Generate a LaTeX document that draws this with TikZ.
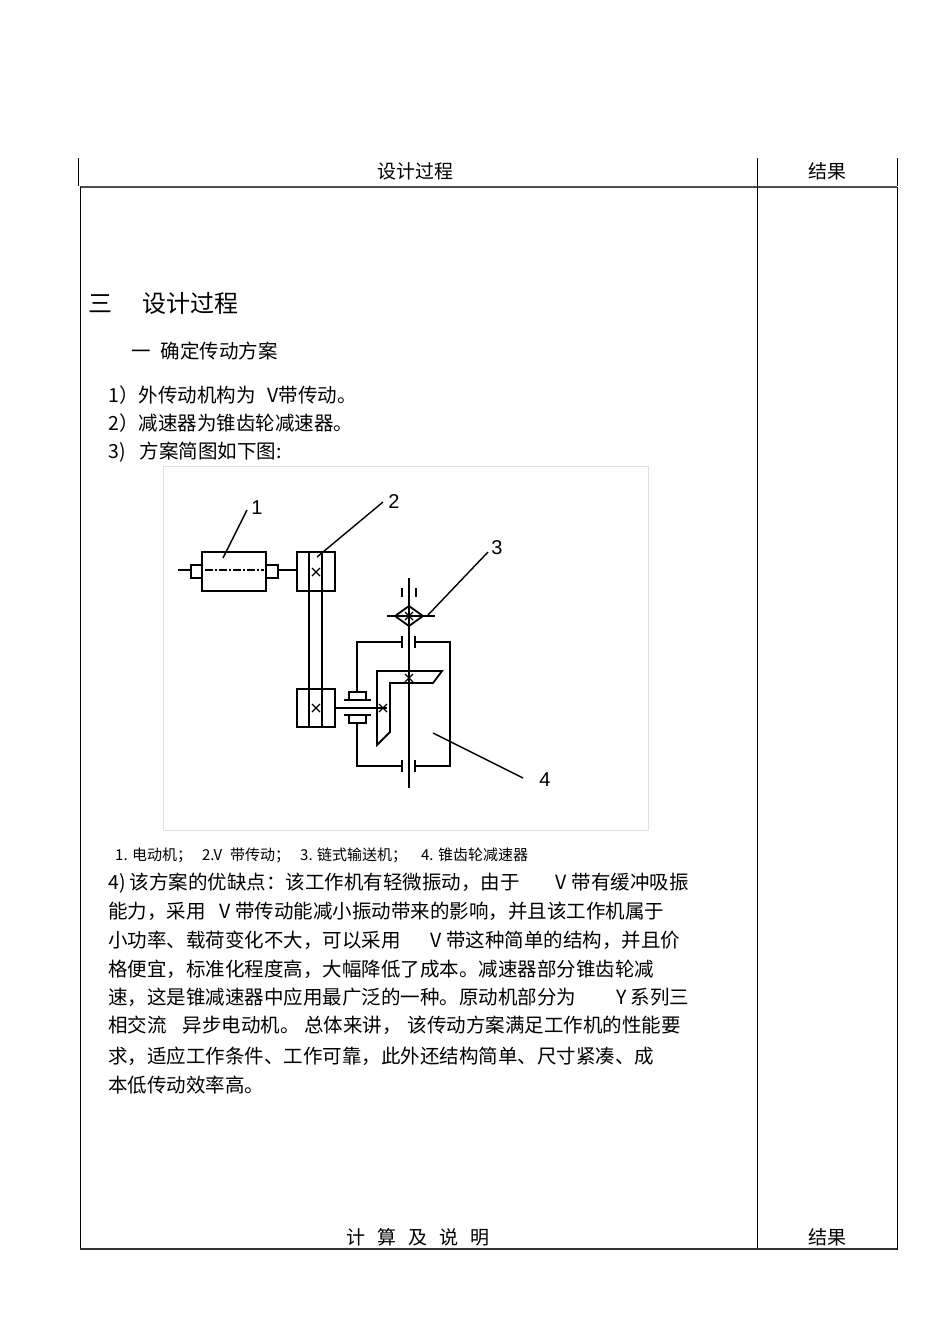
\documentclass[tikz,border=0pt]{standalone}
\usepackage{fontspec}
\setmainfont{Noto Sans CJK SC}
\newfontfamily\lsans{Liberation Sans}
\begin{document}
\begin{tikzpicture}[x=1pt,y=-1pt,
  txt/.style={anchor=west,inner sep=0pt,font=\fontsize{19.5}{19.5}\selectfont},
  hd/.style={inner sep=0pt,font=\fontsize{19}{19}\selectfont},
  num/.style={inner sep=0pt,font=\lsans\fontsize{20}{20}\selectfont},
  mech/.style={line width=1.8pt},
  lead/.style={line width=1.4pt}]
\useasboundingbox (0,0) rectangle (950,1344);
\fill[white] (0,0) rectangle (950,1344);
% table
\draw[line width=1pt] (78,158)--(78,186) (757,158)--(757,186) (897,158)--(897,186);
\draw[line width=1.8pt,black!70] (80,187)--(897,187);
\draw[line width=1pt] (80,187)--(80,1250) (757,187)--(757,1250) (897,187)--(897,1250);
\draw[line width=1.8pt,black!80] (80,1249)--(897,1249);
\node[hd] (h1) at (415,171) {设计过程};
\node[hd] (h2) at (827,171) {结果};
\node[hd] (f1) at (418,1237) {计\hspace{12pt}算\hspace{12pt}及\hspace{12pt}说\hspace{12pt}明};
\node[hd] (f2) at (827,1237) {结果};
% headings
\node[txt,font=\fontsize{24}{24}\selectfont] (t0) at (88,303) {三\hspace{30pt}设计过程};
\node[txt] (t1) at (131,351) {一\hspace{10pt}确定传动方案};
\node[txt] (t2) at (108,395) {1）外传动机构为\hspace{12pt}V带传动。};
\node[txt] (t3) at (108,423) {2）减速器为锥齿轮减速器。};
\node[txt] (t4) at (108,452) {3)\hspace{14pt}方案简图如下图:};
% figure frame
\draw[black!12,line width=0.8pt] (163,466) rectangle (648,830);
% motor
\draw[mech] (202,552) rectangle (266,591);
\draw[mech] (191,565) rectangle (202,578);
\draw[mech] (266,565) rectangle (278,578);
\draw[mech] (178,570)--(191,570) (278,570)--(297,570);
\draw[line width=1.1pt,dash pattern=on 8pt off 2pt on 2pt off 2pt] (205,570)--(264,570);
% pulleys and belt
\draw[mech] (297,552) rectangle (335,591);
\draw[mech] (297,689) rectangle (335,727);
\draw[mech] (309,552)--(309,727) (322,552)--(322,727);
\draw[line width=1.2pt] (312,568)--(320,576) (312,576)--(320,568);
\draw[line width=1.2pt] (312,704)--(320,712) (312,712)--(320,704);
% output shaft & coupling
\draw[mech] (335,708)--(387,708);
\draw[mech] (349,700)--(349,692)--(366,692)--(366,700) (344,700)--(371,700);
\draw[mech] (344,715)--(371,715) (349,715)--(349,723)--(366,723)--(366,715);
% reducer box
\draw[mech] (357,692)--(357,642)--(402,642) (415,642)--(450,642)--(450,766)--(415,766) (402,766)--(357,766)--(357,723);
\draw[mech] (402,636)--(402,648) (415,636)--(415,648) (402,760)--(402,772) (415,760)--(415,772);
% vertical shaft
\draw[mech] (409,578)--(409,788);
\draw[mech] (402,588)--(402,597) (416,588)--(416,597);
% sprocket
\draw[mech] (395,616)--(409,606)--(423,616)--(409,626)--cycle;
\draw[mech] (387,616)--(435,616);
\draw[line width=1.2pt] (405,612)--(413,620) (405,620)--(413,612);
% bevel gears
\draw[mech] (377,671)--(442,671)--(433,683)--(390,683)--(390,732)--(377,745)--cycle;
\draw[line width=1.2pt] (405,674)--(413,682) (405,682)--(413,674);
\draw[line width=1.2pt] (379,704)--(387,712) (379,712)--(387,704);
% leaders and labels
\coordinate (l1a) at (223,558); \coordinate (l1b) at (247,510);
\coordinate (l2a) at (317,557); \coordinate (l2b) at (383,502);
\coordinate (l3a) at (428,615); \coordinate (l3b) at (488,552);
\coordinate (l4a) at (433,733); \coordinate (l4b) at (523,778);
\draw[lead] (l1a)--(l1b) (l2a)--(l2b) (l3a)--(l3b) (l4a)--(l4b);
\node[num] (n1) at (257,508) {1};
\node[num] (n2) at (394,502) {2};
\node[num] (n3) at (497,548) {3};
\node[num] (n4) at (545,780) {4};
% caption
\node[txt,font=\fontsize{15}{15}\selectfont] (cap) at (115,855) {1. 电动机；\hspace{10pt}2.V\hspace{8pt}带传动；\hspace{10pt}3. 链式输送机；\hspace{14pt}4. 锥齿轮减速器};
% paragraph
\node[txt] (p1) at (108,883) {4) 该方案的优缺点：该工作机有轻微振动，由于\hspace{36pt}V 带有缓冲吸振};
\node[txt] (p2) at (108,911) {能力，采用\hspace{14pt}V 带传动能减小振动带来的影响，并且该工作机属于};
\node[txt] (p3) at (108,940) {小功率、载荷变化不大，可以采用\hspace{30pt}V 带这种简单的结构，并且价};
\node[txt] (p4) at (108,969) {格便宜，标准化程度高，大幅降低了成本。减速器部分锥齿轮减};
\node[txt] (p5) at (108,997) {速，这是锥减速器中应用最广泛的一种。原动机部分为\hspace{40pt}Y 系列三};
\node[txt] (p6) at (108,1025) {相交流\hspace{16pt}异步电动机。 总体来讲，\hspace{6pt}该传动方案满足工作机的性能要};
\node[txt] (p7) at (108,1056) {求，适应工作条件、工作可靠，此外还结构简单、尺寸紧凑、成};
\node[txt] (p8) at (108,1085) {本低传动效率高。};
\end{tikzpicture}
\end{document}
